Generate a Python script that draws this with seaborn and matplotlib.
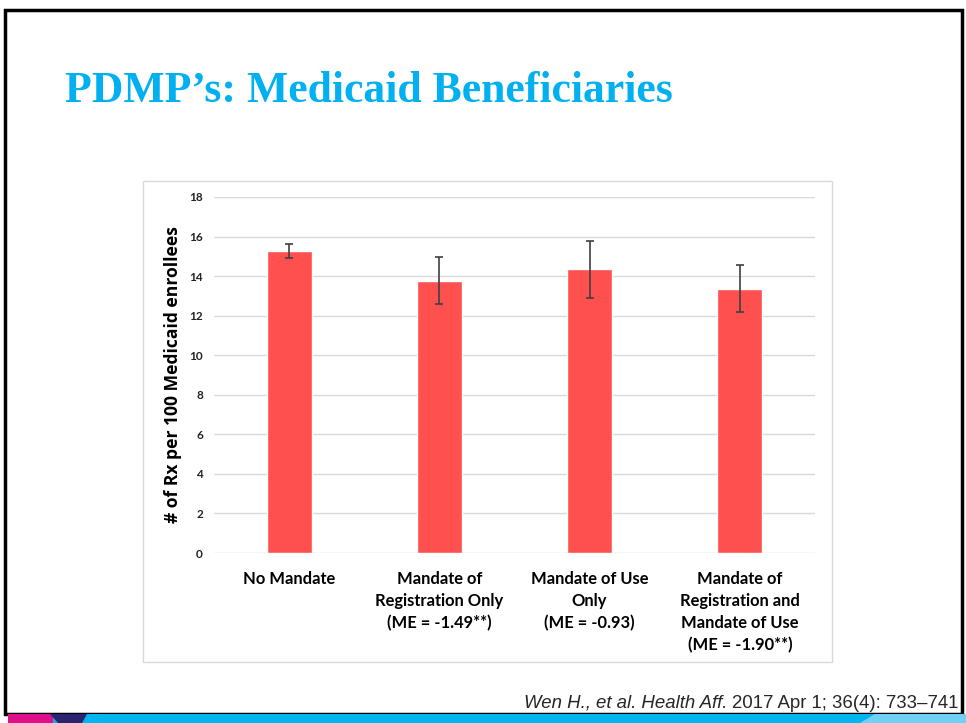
import numpy as np
import pandas as pd
import seaborn as sns
import matplotlib.pyplot as plt
from matplotlib.patches import Rectangle, Polygon

# dados
categories = [
    "No Mandate",
    "Mandate of\nRegistration Only\n(ME = -1.49**)",
    "Mandate of Use\nOnly\n(ME = -0.93)",
    "Mandate of\nRegistration and\nMandate of Use\n(ME = -1.90**)",
]
rx_rate = [15.27, 13.77, 14.34, 13.36]
err_low = [14.91, 12.60, 12.89, 12.17]
err_high = [15.63, 14.95, 15.79, 14.56]
yticks = [0, 2, 4, 6, 8, 10, 12, 14, 16, 18]

W, H = 966, 723
sns.set_theme(style="white")
plt.rcParams['font.family'] = ['Lato', 'DejaVu Sans']

fig = plt.figure(figsize=(W / 100, H / 100), dpi=100)
fig.patch.set_facecolor("white")


def fx(px):
    return px / W


def fy(py):
    return 1 - py / H


# moldura do slide
fig.patches.append(Rectangle((fx(5), fy(714)), fx(957), fy(10) - fy(714),
                             transform=fig.transFigure, fill=False,
                             edgecolor="black", linewidth=2.5))
# faixa decorativa inferior
fig.patches.append(Rectangle((fx(50), 0), 1, fy(714), transform=fig.transFigure,
                             facecolor="#00B6EF", edgecolor="none"))
fig.patches.append(Rectangle((fx(8), 0), fx(45), fy(714), transform=fig.transFigure,
                             facecolor="#E0108A", edgecolor="none"))
fig.patches.append(Polygon([(fx(50), fy(714)), (fx(87), fy(714)), (fx(82), 0), (fx(58), 0)],
                           closed=True, transform=fig.transFigure,
                           facecolor="#2A2470", edgecolor="none"))
fig.patches.append(Polygon([(fx(860), 0), (fx(966), 0), (fx(966), fy(714)), (fx(875), fy(714))],
                           closed=True, transform=fig.transFigure,
                           facecolor="#8ED8F6", edgecolor="none", alpha=0.8))

# caixa do gráfico
fig.patches.append(Rectangle((fx(143), fy(662)), fx(832 - 143), fy(181) - fy(662),
                             transform=fig.transFigure, fill=False,
                             edgecolor="#D9D9D9", linewidth=1))

fig.text(fx(65), fy(102), "PDMP\u2019s: Medicaid Beneficiaries",
         family="Liberation Serif", weight="bold", fontsize=31.5,
         color="#00B0F0", va="baseline", ha="left")

ax = fig.add_axes([fx(214), fy(553), fx(601), fy(197) - fy(553)])
df = pd.DataFrame({"cat": categories, "val": rx_rate})
sns.barplot(data=df, x="cat", y="val", color="#FF5050", saturation=1,
            width=0.3, ax=ax)
xs = np.arange(len(categories))
vals = np.array(rx_rate)
yerr = [vals - np.array(err_low), np.array(err_high) - vals]
ax.errorbar(xs, vals, yerr=yerr, fmt="none", ecolor="#404040",
            elinewidth=1.2, capsize=3, capthick=1.2)

ax.set_ylim(0, 18)
ax.set_xlim(-0.5, 3.5)
ax.set_yticks(yticks)
ax.set_yticklabels([str(t) for t in yticks], fontsize=8.5, weight="bold",
                   color="#222222")
ax.yaxis.grid(True, color="#D9D9D9", linewidth=1)
ax.set_axisbelow(True)
for s in ax.spines.values():
    s.set_visible(False)
ax.tick_params(axis="y", length=0, pad=8)
ax.tick_params(axis="x", length=0, pad=13)
ax.set_xticks(xs)
ax.set_xticklabels(categories, fontsize=11.9, weight="bold", color="black",
                   linespacing=1.45, va="top")
ax.set_xlabel("")
ax.set_ylabel("# of Rx per 100 Medicaid enrollees", family="Open Sans",
              fontsize=12.6, weight="bold", color="black", labelpad=5)

# citação: parte normal, depois parte itálica colada à esquerda
cit = fig.text(fx(958), fy(714) + 0.003, "2017 Apr 1; 36(4): 733\u2013741",
               family="Liberation Sans", fontsize=13.4, ha="right", va="bottom")
fig.canvas.draw()
bb = cit.get_window_extent().transformed(fig.transFigure.inverted())
fig.text(bb.x0 - 0.004, fy(714) + 0.003, "Wen H., et al. Health Aff.",
         family="Liberation Sans", style="italic", fontsize=13.4,
         ha="right", va="bottom")

fig.savefig("out.png", dpi=100)
